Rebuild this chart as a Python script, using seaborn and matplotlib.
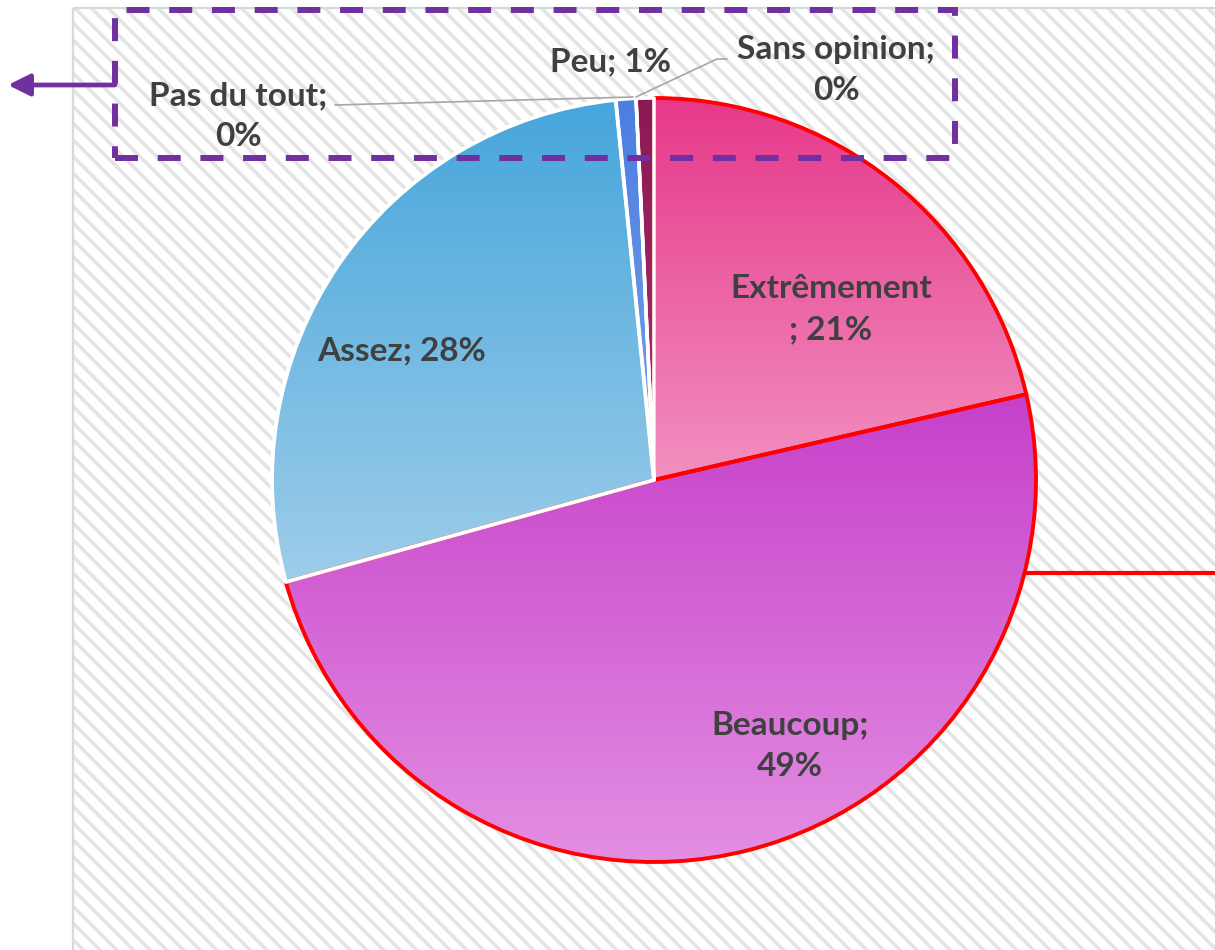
import numpy as np
import matplotlib
matplotlib.use("Agg")
import matplotlib.pyplot as plt
import seaborn as sns
from matplotlib.patches import Rectangle
from matplotlib.colors import ListedColormap

# ---------------- data ----------------
categories = ["Extrêmement", "Beaucoup", "Assez", "Peu", "Pas du tout", "Sans opinion"]
values = [21.4, 49.3, 27.7, 0.85, 0.0, 0.75]
pct_labels = ["21%", "49%", "28%", "1%", "0%", "0%"]
separators = ["\n; ", ";\n", "; ", "; ", ";\n", ";\n"]

# gradient colours per slice (top, bottom)
grad_top = ["#E6388A", "#C640CA", "#46A6DB", "#4A7EE0", "#8A1A52", "#8A1A52"]
grad_bottom = ["#F290C0", "#E38EE2", "#9ECDEA", "#7AA2EA", "#AE2C6C", "#AE2C6C"]
edge_colors = ["#FF0000", "#FF0000", "white", "white", "white", "white"]
edge_widths = [2.8, 2.8, 2.8, 2.4, 2.4, 2.6]

# ---------------- layout (pixels, y measured from bottom) ----------------
W, H = 1215, 950
cx, cy, R = 654, 470, 382
label_pos = [(831, 641), (790, 204), (402, 599), (611, 888), (238, 834), (836, 880)]

sns.set_theme(style="white")
plt.rcParams["font.family"] = ["Lato", "DejaVu Sans"]

fig = plt.figure(figsize=(W / 100, H / 100), dpi=100)
ax = fig.add_axes([0, 0, 1, 1])

# hatched plot-area background
plt.rcParams["hatch.linewidth"] = 2.6
bg = Rectangle((73, 0), W, 942, facecolor="white", edgecolor="#E4E4E4",
               hatch="\\\\", linewidth=0, zorder=0)
ax.add_patch(bg)
ax.plot([73, 73], [0, 942], color="#D9D9D9", lw=1.6, zorder=0.5, solid_capstyle="butt")
ax.plot([73, W], [942, 942], color="#D9D9D9", lw=1.6, zorder=0.5, solid_capstyle="butt")

wedges, _ = ax.pie(values, startangle=90, counterclock=False, center=(cx, cy),
                   radius=R, normalize=True)

for i, w in enumerate(wedges):
    w.set_facecolor("none")
    w.set_zorder(3)
    w.set_edgecolor(edge_colors[i])
    w.set_linewidth(edge_widths[i])
    w.set_joinstyle("round")
    if values[i] <= 0:
        continue
    bb = w.get_path().get_extents()
    cmap = ListedColormap(sns.blend_palette([grad_top[i], grad_bottom[i]], 256))
    img = ax.imshow(np.linspace(0, 1, 256).reshape(-1, 1), cmap=cmap,
                    extent=[bb.x0, bb.x1, bb.y0, bb.y1], origin="upper",
                    aspect="auto", zorder=2, interpolation="bilinear")
    img.set_clip_path(w)

# labels
for i, (name, sep, pct) in enumerate(zip(categories, separators, pct_labels)):
    x, y = label_pos[i]
    ax.text(x, y, f"{name}{sep}{pct}", ha="center", va="center", fontsize=24,
            fontweight="bold", color="#404040", linespacing=1.5, zorder=7)

# leader lines
ax.plot([335, 633], [845, 853], color="#A6A6A6", lw=1.2, zorder=6)
ax.plot([727, 717, 636], [891, 891, 853], color="#A6A6A6", lw=1.2, zorder=6)

# red line from the pie edge to the right
ly = 377
lx = cx + np.sqrt(R ** 2 - (ly - cy) ** 2)
ax.plot([lx, W], [ly, ly], color="#FF0000", lw=3.0, zorder=4, solid_capstyle="butt")

# dashed purple box
lw_box = 4.3
box = Rectangle((115, 950 - 158), 840, 148, fill=False, edgecolor="#7030A0",
                linewidth=lw_box, linestyle=(0, (3.85, 3.3)), zorder=6)
ax.add_patch(box)

# purple arrow
ax.annotate("", xy=(8, 865), xytext=(115, 865),
            arrowprops=dict(arrowstyle="-|>,head_length=1.1,head_width=0.55",
                            color="#7030A0", lw=3.4, shrinkA=0, shrinkB=0),
            zorder=6)

ax.set_xlim(0, W)
ax.set_ylim(0, H)
ax.set_aspect("auto")
ax.axis("off")

fig.savefig("out.png", dpi=100, facecolor="white")
